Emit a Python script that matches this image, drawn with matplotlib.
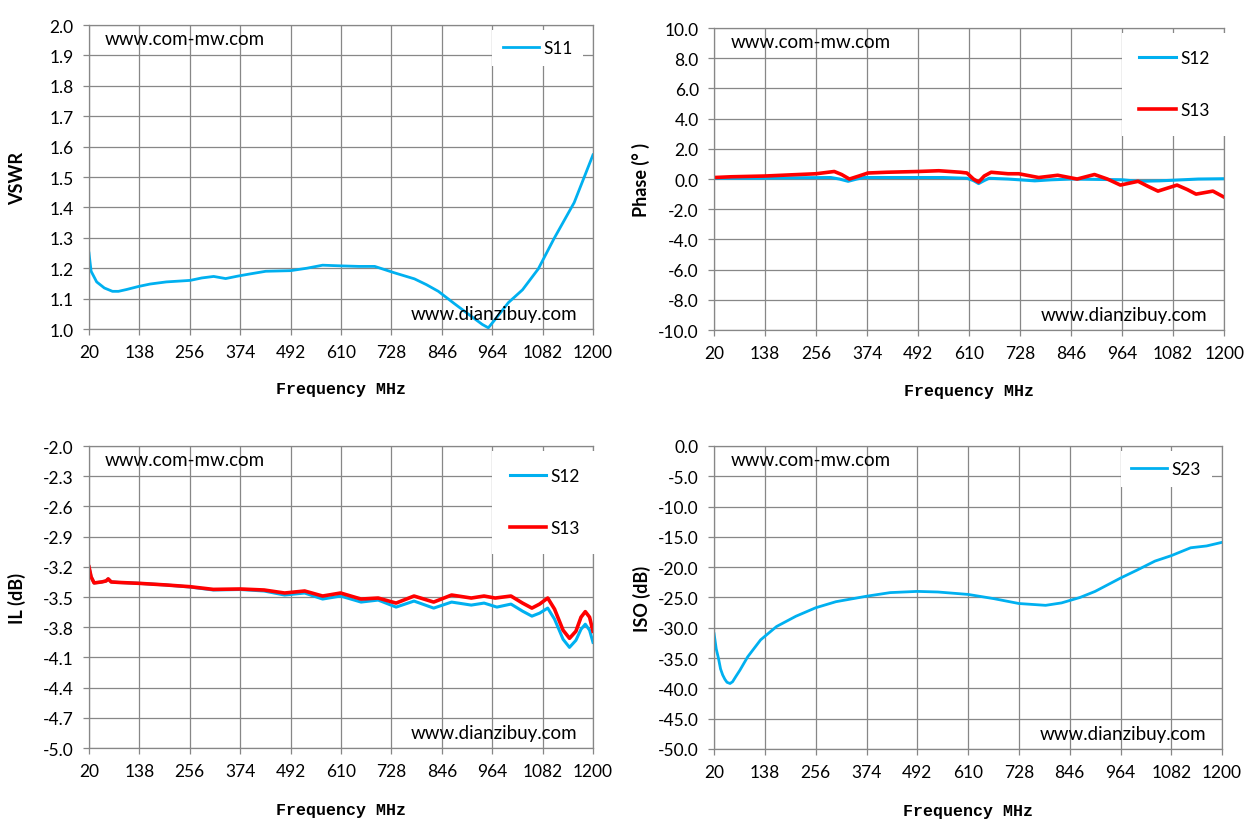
import numpy as np
import matplotlib
matplotlib.use("Agg")
import matplotlib.pyplot as plt

# 数据
freq_ticks = [20, 138, 256, 374, 492, 610, 728, 846, 964, 1082, 1200]

f_s11 = [20, 25, 38, 56, 75, 89, 108, 136, 163, 201, 257, 284, 312, 340, 368, 396, 434, 492,
         530, 567, 605, 652, 689, 735, 782, 810, 838, 875, 913, 941, 955, 974, 1002, 1035,
         1072, 1109, 1156, 1200]
vswr_s11 = [1.25, 1.19, 1.155, 1.135, 1.124, 1.124, 1.13, 1.14, 1.148, 1.155, 1.16, 1.168,
            1.173, 1.166, 1.174, 1.181, 1.19, 1.192, 1.20, 1.21, 1.208, 1.206, 1.206, 1.185,
            1.165, 1.146, 1.124, 1.084, 1.044, 1.015, 1.004, 1.037, 1.087, 1.129, 1.198,
            1.298, 1.416, 1.573]

f_ph12 = [20, 100, 200, 290, 310, 330, 350, 367, 450, 550, 605, 620, 632, 645, 656, 700, 762,
          800, 846, 900, 964, 1001, 1050, 1082, 1140, 1200]
ph_s12 = [0.05, 0.05, 0.08, 0.1, 0.0, -0.15, 0.0, 0.1, 0.1, 0.1, 0.05, -0.1, -0.3, -0.1, 0.05,
          0.0, -0.12, -0.05, 0.0, -0.02, -0.05, -0.15, -0.12, -0.08, 0.0, 0.02]

f_ph13 = [20, 60, 138, 200, 256, 298, 315, 333, 355, 376, 420, 492, 540, 590, 605, 620, 632,
          645, 661, 700, 725, 771, 815, 860, 900, 930, 960, 1001, 1025, 1047, 1091, 1115, 1135,
          1174, 1200]
ph_s13 = [0.1, 0.15, 0.2, 0.28, 0.35, 0.5, 0.3, 0.0, 0.2, 0.4, 0.45, 0.5, 0.55, 0.45, 0.4, 0.0,
          -0.2, 0.2, 0.45, 0.35, 0.35, 0.1, 0.25, 0.0, 0.3, 0.0, -0.4, -0.15, -0.5, -0.8, -0.4,
          -0.7, -1.0, -0.8, -1.2]

f_il13 = [20, 25, 32, 50, 60, 65, 72, 90, 138, 200, 256, 311, 374, 430, 478, 525, 567, 609,
          657, 697, 739, 781, 827, 869, 915, 945, 971, 1008, 1035, 1057, 1075, 1094, 1110, 1130,
          1145, 1160, 1172, 1182, 1192, 1200]
il_s13 = [-3.20, -3.30, -3.36, -3.35, -3.34, -3.32, -3.35, -3.355, -3.364, -3.38, -3.397,
          -3.424, -3.42, -3.43, -3.46, -3.44, -3.49, -3.46, -3.52, -3.51, -3.56, -3.49, -3.55,
          -3.48, -3.51, -3.49, -3.51, -3.49, -3.56, -3.61, -3.57, -3.51, -3.62, -3.83,
          -3.91, -3.84, -3.70, -3.645, -3.70, -3.84]

f_il12 = [20, 25, 32, 50, 60, 65, 72, 90, 138, 200, 256, 311, 374, 430, 478, 525, 567, 609,
          657, 697, 739, 781, 827, 869, 915, 945, 975, 1008, 1035, 1057, 1075, 1094, 1110, 1130,
          1145, 1160, 1172, 1182, 1192, 1200]
il_s12 = [-3.20, -3.30, -3.36, -3.35, -3.34, -3.32, -3.35, -3.355, -3.364, -3.38, -3.40,
          -3.43, -3.425, -3.44, -3.48, -3.46, -3.52, -3.49, -3.55, -3.53, -3.60, -3.54, -3.61,
          -3.55, -3.58, -3.56, -3.60, -3.57, -3.64, -3.69, -3.66, -3.61, -3.72, -3.92,
          -4.00, -3.93, -3.82, -3.77, -3.83, -3.95]

f_iso = [20, 25, 30, 35, 40, 45, 50, 57, 63, 70, 80, 98, 128, 165, 210, 256, 303, 374, 429,
         492, 540, 610, 670, 728, 790, 827, 870, 905, 964, 1002, 1044, 1082, 1127, 1164, 1200]
iso_s23 = [-31, -33.5, -35, -36.8, -37.8, -38.5, -39.0, -39.2, -38.9, -38.1, -37.0, -34.8,
           -32, -29.8, -28.1, -26.7, -25.7, -24.8, -24.2, -24.0, -24.1, -24.5, -25.2, -26.0,
           -26.3, -25.9, -25.0, -24.0, -21.8, -20.5, -19.0, -18.1, -16.8, -16.5, -15.9]

BLUE = '#00b0f0'
RED = '#ff0000'
GRID = '#878787'
SANS = ['Lato', 'DejaVu Sans']

fig = plt.figure(figsize=(12.55, 8.37), dpi=100)

# 四个子图的位置 (按像素换算)
ax1 = fig.add_axes([0.0709, 0.6057, 0.4016, 0.3632])
ax2 = fig.add_axes([0.5690, 0.6045, 0.4064, 0.3608])
ax3 = fig.add_axes([0.0709, 0.1051, 0.4016, 0.3608])
ax4 = fig.add_axes([0.5690, 0.1040, 0.4048, 0.3620])


def style_axis(ax, yticks, ylabel, xlab_y):
    ax.set_xlim(20, 1200)
    ax.set_ylim(yticks[0], yticks[-1])
    ax.set_xticks(freq_ticks)
    ax.set_yticks(yticks)
    ax.set_yticklabels([f'{v:.1f}' for v in yticks])
    ax.grid(True, color=GRID, lw=0.9)
    ax.set_axisbelow(True)
    for sp in ax.spines.values():
        sp.set_color(GRID)
        sp.set_linewidth(0.9)
    ax.tick_params(direction='out', length=4, width=0.9, color=GRID, labelsize=12.5,
                   pad=7)
    for lab in ax.get_xticklabels() + ax.get_yticklabels():
        lab.set_family(SANS)
    ax.set_ylabel(ylabel, family=SANS, fontweight='bold', fontsize=13)
    ax.yaxis.set_label_coords(-0.125, 0.5)
    ax.set_xlabel('Frequency MHz', family=['Liberation Mono', 'DejaVu Sans Mono'],
                  fontweight='bold', fontsize=12)
    ax.xaxis.set_label_coords(0.5, xlab_y)
    ax.text(0.032, 0.955, 'www.com-mw.com', transform=ax.transAxes, family=SANS,
            fontsize=13.5, va='center', ha='left')
    ax.text(0.968, 0.05, 'www.dianzibuy.com', transform=ax.transAxes, family=SANS,
            fontsize=13.5, va='center', ha='right')


def add_legend(ax, spacing, pad):
    leg = ax.legend(loc='upper left', bbox_to_anchor=(0.8, 0.985), frameon=True,
                    fancybox=False, framealpha=1, facecolor='white', edgecolor='none',
                    borderaxespad=0, borderpad=pad, handlelength=2.1, handletextpad=0.25,
                    labelspacing=spacing, prop={'family': SANS, 'size': 12.5})
    return leg


# VSWR
ax1.plot(f_s11, vswr_s11, color=BLUE, lw=2.0, label='S11')
style_axis(ax1, np.linspace(1.0, 2.0, 11), 'VSWR', -0.17)
add_legend(ax1, 1.0, 0.6)

# Phase
ax2.plot(f_ph12, ph_s12, color=BLUE, lw=2.2, label='S12')
ax2.plot(f_ph13, ph_s13, color=RED, lw=2.6, label='S13')
style_axis(ax2, np.linspace(-10.0, 10.0, 11), 'Phase (° )', -0.175)
add_legend(ax2, 2.1, 1.0)

# IL
ax3.plot(f_il12, il_s12, color=BLUE, lw=2.2, label='S12')
ax3.plot(f_il13, il_s13, color=RED, lw=2.6, label='S13')
style_axis(ax3, np.linspace(-5.0, -2.0, 11), 'IL (dB)', -0.18)
add_legend(ax3, 2.1, 1.0)

# ISO
ax4.plot(f_iso, iso_s23, color=BLUE, lw=2.0, label='S23')
style_axis(ax4, np.linspace(-50.0, 0.0, 11), 'ISO (dB)', -0.18)
add_legend(ax4, 1.0, 0.6)

fig.savefig('out.png', dpi=100, facecolor='white')
